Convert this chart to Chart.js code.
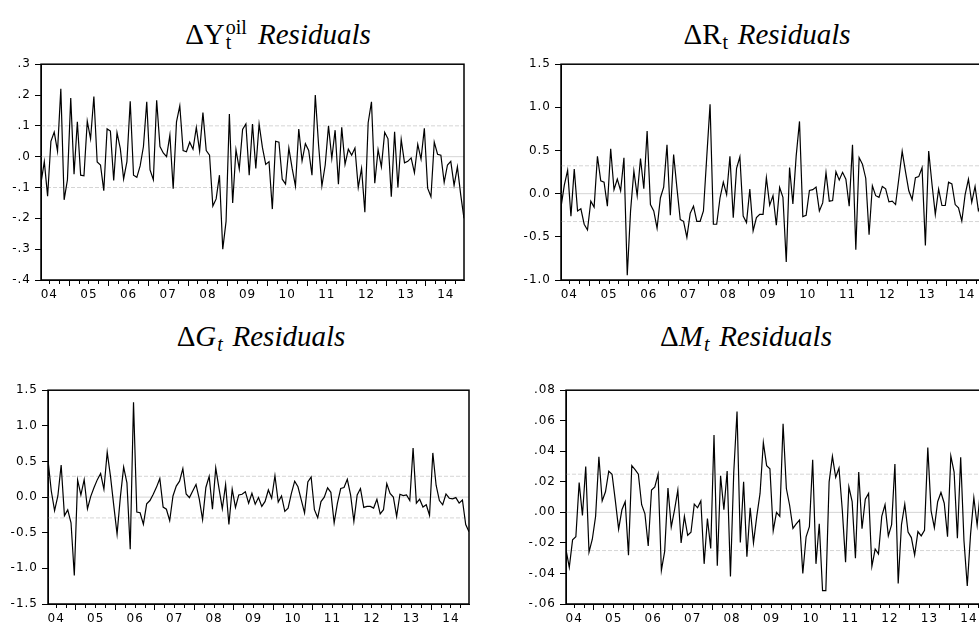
<!DOCTYPE html>
<html lang="en">
  <head>
    <meta charset="UTF-8" />
    <title>Residuals</title>
    <script src="https://cdn.jsdelivr.net/npm/chart.js"></script>
    <style>
      body {
        margin: 0;
        background: #fff;
        width: 979px;
        height: 622px;
        overflow: hidden;
        position: relative;
      }
      canvas {
        position: absolute;
      }
      .title {
        position: absolute;
        width: 500px;
        text-align: center;
        font-family: "Liberation Serif", serif;
        font-size: 29px;
        line-height: 1;
        color: #000;
        white-space: nowrap;
      }
      .ss {
        display: inline-block;
        position: relative;
        height: 0;
      }
      .ss span {
        position: absolute;
        left: 1px;
        font-size: 20px;
        line-height: 1;
      }
      .ss .up {
        top: -27px;
      }
      .ss .dn {
        top: -12px;
      }
    </style>
  </head>
  <body>
    <div class="title" style="left: 28px; top: 20px">
      ΔY<span class="ss" style="width: 26px"><span class="up">oil</span><span class="dn">t</span></span> <i>Residuals</i>
    </div>
    <div class="title" style="left: 517px; top: 20px">
      ΔR<span class="ss" style="width: 9px"><span class="dn">t</span></span> <i>Residuals</i>
    </div>
    <div class="title" style="left: 11px; top: 322px">
      Δ<i>G</i><span class="ss" style="width: 9px"><span class="dn"><i>t</i></span></span> <i>Residuals</i>
    </div>
    <div class="title" style="left: 496px; top: 322px">
      Δ<i>M</i><span class="ss" style="width: 9px"><span class="dn"><i>t</i></span></span> <i>Residuals</i>
    </div>

    <canvas id="oil-chart" width="471" height="257" style="left: 1px; top: 53px"></canvas>
    <canvas id="rate-chart" width="472" height="257" style="left: 521px; top: 53px"></canvas>
    <canvas id="gov-chart" width="469" height="255" style="left: 8px; top: 379px"></canvas>
    <canvas id="money-chart" width="469" height="255" style="left: 526px; top: 379px"></canvas>

    <script>
      // monthly residuals, first observation April 2004
      const firstMonth = 4;
      const yearLabels = ["04", "05", "06", "07", "08", "09", "10", "11", "12", "13", "14"];

      const oilResid = [
        -0.086, -0.016, -0.128, 0.05, 0.08, 0.018, 0.22, -0.14, -0.075, 0.19, -0.057, 0.113,
        -0.06, -0.062, 0.115, 0.058, 0.195, -0.017, -0.027, -0.11, 0.09, 0.083, -0.077, 0.078,
        0.026, -0.072, -0.016, 0.18, -0.06, -0.067, -0.03, 0.033, 0.178, -0.043, -0.075, 0.183,
        0.033, 0.012, 0.0, 0.07, -0.104, 0.113, 0.165, 0.02, 0.016, 0.047, 0.024, 0.095,
        0.018, 0.143, 0.02, 0.005, -0.16, -0.137, -0.06, -0.3, -0.21, 0.138, -0.15, 0.023,
        -0.04, 0.088, 0.106, -0.06, 0.106, -0.038, 0.106, 0.03, -0.025, -0.016, -0.17, 0.05,
        0.047, -0.073, -0.089, 0.028, -0.038, -0.095, 0.09, -0.014, 0.042, 0.02, -0.06, 0.2,
        0.037, -0.095, -0.027, 0.1, -0.006, 0.086, -0.089, 0.095, -0.025, 0.024, 0.005, 0.028,
        -0.1, -0.038, -0.18, 0.11, 0.178, -0.086, 0.023, -0.033, 0.079, 0.058, -0.13, 0.081,
        -0.1, 0.056, -0.02, -0.015, -0.004, -0.052, 0.04, -0.008, 0.092, -0.102, -0.13, 0.047,
        0.008, 0.005, -0.083, -0.027, -0.015, -0.093, -0.033, -0.123, -0.2,
      ];
      const rateResid = [
        -0.156, 0.1, 0.27, -0.26, 0.285, -0.2, -0.175, -0.354, -0.42, -0.087, -0.156, 0.434,
        0.148, 0.133, -0.145, 0.52, 0.046, 0.17, 0.034, 0.415, -0.944, -0.2, 0.262, -0.023,
        0.407, 0.057, 0.727, -0.126, -0.2, -0.4, -0.05, 0.076, 0.567, -0.25, 0.453, 0.065,
        -0.3, -0.32, -0.506, -0.228, -0.145, -0.32, -0.32, -0.2, 0.426, 1.035, -0.354, -0.354,
        -0.05, 0.133, -0.01, 0.434, -0.278, 0.293, 0.426, -0.26, -0.335, 0.053, -0.43, -0.278,
        -0.24, -0.24, 0.186, -0.133, -0.023, -0.365, 0.072, -0.042, -0.79, 0.304, -0.118, 0.438,
        0.837, -0.266, -0.25, 0.038, 0.046, 0.076, -0.2, -0.107, 0.243, -0.087, -0.08, 0.255,
        0.16, 0.247, 0.167, -0.145, 0.567, -0.65, 0.419, 0.342, 0.179, -0.476, 0.091, -0.023,
        -0.042, 0.084, 0.057, -0.095, -0.087, -0.126, 0.179, 0.491, 0.255, 0.034, -0.068, 0.186,
        0.198, 0.3, -0.6, 0.495, 0.11, -0.24, 0.053, -0.137, -0.137, 0.133, 0.114, -0.126,
        -0.164, -0.316, -0.011, 0.167, -0.1, 0.084, -0.194, -0.12, 0.05,
      ];
      const govResid = [
        0.52, 0.085, -0.19, 0.016, 0.45, -0.26, -0.18, -0.36, -1.1, 0.24, 0.03, 0.245,
        -0.163, 0.01, 0.135, 0.245, 0.33, 0.11, 0.63, 0.29, -0.12, -0.52, 0.0, 0.42,
        0.2, -0.73, 1.33, -0.21, -0.22, -0.38, -0.094, -0.048, 0.04, 0.14, 0.26, -0.14,
        -0.17, -0.33, 0.016, 0.154, 0.223, 0.4, 0.044, -0.007, 0.085, 0.177, -0.03, -0.315,
        0.135, 0.29, -0.17, 0.41, 0.12, -0.163, 0.177, -0.385, 0.11, -0.145, 0.03, 0.04,
        0.076, -0.085, 0.053, -0.1, -0.007, -0.13, -0.06, 0.1, -0.016, 0.3, -0.07, 0.016,
        -0.2, -0.154, 0.053, 0.223, 0.145, -0.04, -0.22, 0.214, 0.283, -0.177, -0.29, -0.062,
        0.0, 0.13, 0.067, -0.36, -0.085, 0.12, 0.135, 0.25, 0.03, -0.34, 0.03, 0.12,
        -0.145, -0.13, -0.13, -0.154, -0.03, -0.236, -0.177, 0.19, 0.053, 0.0, -0.27, 0.04,
        0.02, 0.03, -0.048, 0.69, -0.085, -0.03, -0.14, -0.108, -0.255, 0.62, 0.167, -0.048,
        -0.108, 0.044, -0.016, -0.025, -0.007, -0.085, -0.04, -0.385, -0.485,
      ];
      const moneyResid = [
        -0.0244, -0.036, -0.018, -0.016, 0.0195, -0.002, 0.03, -0.026, -0.0176, -0.0026, 0.0364, 0.0075,
        0.0135, 0.027, 0.025, 0.0077, -0.011, 0.0017, 0.007, -0.028, 0.0306, 0.028, 0.025, 0.005,
        -0.001, -0.022, 0.0146, 0.0167, 0.025, -0.038, -0.0255, 0.016, -0.0096, 0.0017, 0.0146, -0.02,
        -0.0026, -0.015, -0.013, 0.0054, 0.003, 0.0075, -0.0337, -0.004, -0.0236, 0.0506, -0.035, 0.024,
        0.0017, 0.027, -0.042, 0.026, 0.066, -0.0197, 0.02, -0.029, 0.003, -0.02, -0.0026, 0.0124,
        0.0457, 0.0306, 0.0285, -0.012, 0.0, -0.0026, 0.058, 0.0156, 0.0045, -0.0105, -0.0075, -0.005,
        -0.04, -0.016, -0.0094, 0.0345, -0.0337, -0.0075, -0.0512, -0.0512, 0.02, 0.0367, 0.023, 0.029,
        0.0017, -0.0326, 0.0167, 0.007, -0.03, 0.0264, -0.0107, 0.0086, 0.0124, -0.0354, -0.024, -0.0272,
        -0.0026, 0.005, -0.0154, -0.008, 0.0317, -0.0465, -0.008, 0.0054, -0.0129, -0.0165, -0.028, -0.0126,
        -0.0154, -0.0118, 0.0424, 0.001, -0.01, 0.007, 0.013, 0.006, -0.0159, 0.037, 0.0264, -0.017,
        0.036, -0.0186, -0.0482, -0.0144, 0.0096, -0.0084, 0.0146, -0.005, 0.01,
      ];

      // y axis ticks and their labels
      const oilTicks = [-0.4, -0.3, -0.2, -0.1, 0, 0.1, 0.2, 0.3];
      const oilTickLabels = ["-.4", "-.3", "-.2", "-.1", ".0", ".1", ".2", ".3"];
      const rateTicks = [-1, -0.5, 0, 0.5, 1, 1.5];
      const rateTickLabels = ["-1.0", "-0.5", "0.0", "0.5", "1.0", "1.5"];
      const govTicks = [-1.5, -1, -0.5, 0, 0.5, 1, 1.5];
      const govTickLabels = ["-1.5", "-1.0", "-0.5", "0.0", "0.5", "1.0", "1.5"];
      const moneyTicks = [-0.06, -0.04, -0.02, 0, 0.02, 0.04, 0.06, 0.08];
      const moneyTickLabels = ["-.06", "-.04", "-.02", ".00", ".02", ".04", ".06", ".08"];

      // +/- one standard error bands
      const oilBand = 0.1;
      const rateBand = 0.323;
      const govBand = 0.292;
      const moneyBand = 0.025;

      const labelFont = { family: "DejaVu Sans", size: 12 };

      const monthOf = (i) => ((firstMonth - 1 + i) % 12) + 1;

      // box around the plot area, and the wide tick lettering
      const frame = {
        id: "frame",
        beforeDraw(chart) {
          chart.ctx.letterSpacing = "1px";
        },
        afterDraw(chart) {
          const { ctx, chartArea: a } = chart;
          ctx.save();
          ctx.strokeStyle = "#000";
          ctx.lineWidth = 1.5;
          ctx.strokeRect(a.left, a.top, a.right - a.left, a.bottom - a.top);
          ctx.restore();
        },
      };

      function residualChart(id, values, yTicks, yLabels, band) {
        const months = values.map((v, i) => i);
        const last = months[months.length - 1];

        // tick between the last month of a quarter and the next one
        const quarterTicks = months
          .filter((i) => i > 0 && [1, 4, 7, 10].includes(monthOf(i)))
          .map((i) => i - 0.5);
        const yearTick = (v) => monthOf(v + 0.5) === 1;
        const midYears = quarterTicks.filter((v) => monthOf(v + 0.5) === 7);

        const refLine = (y, dash) => ({
          data: [
            { x: 0, y: y },
            { x: last, y: y },
          ],
          borderColor: "#d5d5d5",
          borderWidth: 1,
          borderDash: dash,
          pointRadius: 0,
          order: 1,
        });

        new Chart(document.getElementById(id), {
          type: "line",
          data: {
            labels: months,
            datasets: [
              {
                data: values,
                borderColor: "#000",
                borderWidth: 1.2,
                pointRadius: 0,
                order: 0,
              },
              refLine(0, []),
              refLine(band, [4, 2]),
              refLine(-band, [4, 2]),
            ],
          },
          options: {
            responsive: false,
            animation: false,
            layout: { padding: { top: 8, right: 8, bottom: 0, left: 0 } },
            plugins: {
              legend: { display: false },
              tooltip: { enabled: false },
            },
            scales: {
              x: {
                type: "linear",
                min: 0,
                max: last,
                afterBuildTicks: (s) => {
                  s.ticks = quarterTicks.map((v) => ({ value: v }));
                },
                afterFit: (s) => {
                  s.height = 30;
                },
                grid: {
                  drawOnChartArea: false,
                  tickLength: 6,
                  tickColor: "#000",
                  tickBorderDash: (ctx) =>
                    ctx.tick && yearTick(ctx.tick.value) ? [] : [3, 10],
                },
                border: { color: "#000" },
                ticks: {
                  autoSkip: false,
                  maxRotation: 0,
                  padding: 2,
                  color: "#000",
                  font: labelFont,
                  callback: (v) => {
                    const k = midYears.indexOf(v);
                    return k >= 0 ? yearLabels[k] : "";
                  },
                },
              },
              y: {
                min: yTicks[0],
                max: yTicks[yTicks.length - 1],
                afterBuildTicks: (s) => {
                  s.ticks = yTicks.map((v) => ({ value: v }));
                },
                afterFit: (s) => {
                  s.width = 40;
                },
                grid: {
                  drawOnChartArea: false,
                  tickLength: 6,
                  tickColor: "#000",
                },
                border: { color: "#000" },
                ticks: {
                  padding: 4,
                  color: "#000",
                  font: labelFont,
                  callback: (v, i) => yLabels[i],
                },
              },
            },
          },
          plugins: [frame],
        });
      }

      residualChart("oil-chart", oilResid, oilTicks, oilTickLabels, oilBand);
      residualChart("rate-chart", rateResid, rateTicks, rateTickLabels, rateBand);
      residualChart("gov-chart", govResid, govTicks, govTickLabels, govBand);
      residualChart("money-chart", moneyResid, moneyTicks, moneyTickLabels, moneyBand);
    </script>
  </body>
</html>
